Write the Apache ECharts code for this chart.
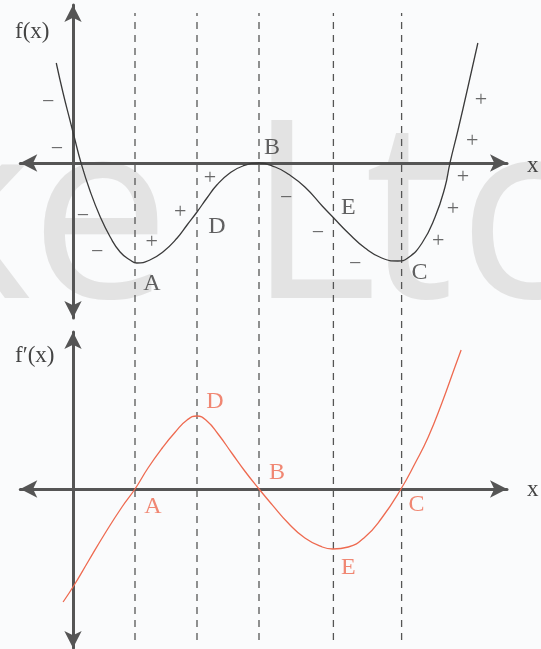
<!DOCTYPE html>
<html><head><meta charset="utf-8">
<script src="https://cdn.jsdelivr.net/npm/echarts@6/dist/echarts.min.js"></script>
<style>html,body{margin:0;padding:0;background:#fafbfc;}#chart{width:541px;height:649px;}</style>
</head><body><div id="chart"></div>
<script>
// ---- data (x in units of the A-D spacing, y in arbitrary units) ----
const pointNames = ['A', 'D', 'B', 'E', 'C'];
const pointX = [1, 2, 3, 4.2, 5.3];
const fPointY = [-5, -2.45, 0, -2.7, -4.9];
const dfPointY = [0, 3.65, 0, -3.0, 0];

const fCurve = [[-0.27,5.0],[-0.16,3.5],[-0.05,2.15],[0.02,1.3],[0.13,0],[0.27,-1.35],[0.44,-2.7],[0.6,-3.7],[0.76,-4.45],[0.92,-4.85],[1.03,-5.0],[1.24,-4.85],[1.45,-4.45],[1.68,-3.75],[1.84,-3.1],[2.0,-2.45],[2.16,-1.75],[2.32,-1.1],[2.53,-0.5],[2.74,-0.15],[3.0,0],[3.26,-0.2],[3.47,-0.55],[3.74,-1.2],[4.02,-2.15],[4.19,-2.7],[4.44,-3.5],[4.71,-4.25],[4.98,-4.75],[5.24,-4.9],[5.4,-4.75],[5.63,-4.0],[5.84,-2.7],[6.0,-1.2],[6.08,0],[6.21,1.65],[6.37,3.8],[6.53,6.0]];
const dfCurve = [[-0.16,-5.65],[0.02,-4.8],[0.24,-3.65],[0.52,-2.2],[0.79,-0.9],[1,0],[1.21,1.05],[1.44,2.05],[1.65,2.85],[1.84,3.45],[2.0,3.65],[2.16,3.4],[2.34,2.75],[2.56,1.8],[2.77,0.9],[3,0],[3.21,-0.78],[3.47,-1.7],[3.74,-2.45],[4.02,-2.9],[4.19,-3.0],[4.44,-2.9],[4.71,-2.4],[4.98,-1.45],[5.29,0],[5.52,1.3],[5.73,2.6],[5.95,4.3],[6.16,6.1],[6.26,6.95]];

const minusSigns = [[-0.40,3.05],[-0.26,0.7],[0.16,-2.65],[0.39,-4.45],[3.44,-1.75],[3.95,-3.5],[4.55,-5.05]];
const plusSigns = [[1.27,-3.95],[1.73,-2.45],[2.21,-0.75],[5.89,-3.9],[6.13,-2.3],[6.29,-0.7],[6.44,1.1],[6.58,3.15]];

// ---- styling ----
const AXIS = '#555';
const INK = '#3a3a3a';
const RED = '#ee6a50';
const SERIF = '"Liberation Serif", "DejaVu Serif", serif';
const fLabelOffset = {A:[17,21], D:[20,15], B:[13,-15], E:[15,-9], C:[18,12]};
const dfLabelOffset = {A:[18,18], D:[18,-14], B:[18,-16], E:[15,19], C:[15,16]};

const X_MIN = -0.85, X_MAX = 7.0;
const gridLeft = 20.3, gridWidth = 486.7;

function axisX(gi, show) {
  return {type:'value', gridIndex:gi, min:X_MIN, max:X_MAX, show:true,
    axisLine:{show:show, onZero:true, symbol:['arrow','arrow'], symbolSize:[13,17], lineStyle:{color:AXIS, width:3}},
    axisTick:{show:false}, axisLabel:{show:false}, splitLine:{show:false}};
}
function axisY(gi, min, max, show) {
  return {type:'value', gridIndex:gi, min:min, max:max, show:true,
    axisLine:{show:show, onZero:true, symbol:['arrow','arrow'], symbolSize:[13,17], lineStyle:{color:AXIS, width:3}},
    axisTick:{show:false}, axisLabel:{show:false}, splitLine:{show:false}};
}

const series = [];
pointX.forEach(x => series.push({type:'line', xAxisIndex:2, yAxisIndex:2, data:[[x,0],[x,1]], symbol:'none', silent:true,
  lineStyle:{color:'#555', width:1.3, type:[7,6]}, z:1}));
series.push({type:'line', xAxisIndex:0, yAxisIndex:0, data:fCurve, symbol:'none', smooth:0.5,
  lineStyle:{color:INK, width:1.3}, z:5});
series.push({type:'line', xAxisIndex:1, yAxisIndex:1, data:dfCurve, symbol:'none', smooth:0.5,
  lineStyle:{color:RED, width:1.3}, z:5});
function pointLabels(xi, ys, offsets, color) {
  return {type:'scatter', xAxisIndex:xi, yAxisIndex:xi, symbolSize:1, itemStyle:{color:'rgba(0,0,0,0)'}, silent:true, z:6,
    data: pointNames.map((n,i) => ({value:[pointX[i], ys[i]], name:n,
      label:{show:true, position:'inside', offset:offsets[n], formatter:n, color:color, fontFamily:SERIF, fontSize:24}}))};
}
series.push(pointLabels(0, fPointY, fLabelOffset, INK));
series.push(pointLabels(1, dfPointY, dfLabelOffset, RED));
function signs(arr, ch) {
  return {type:'scatter', xAxisIndex:0, yAxisIndex:0, symbolSize:1, itemStyle:{color:'rgba(0,0,0,0)'}, silent:true, z:6,
    data: arr.map(p => ({value:p})),
    label:{show:true, position:'inside', formatter:ch, color:'#444', fontFamily:SERIF, fontSize:22}};
}
series.push(signs(minusSigns, '\u2212'));
series.push(signs(plusSigns, '+'));

const wm = '#e3e3e3';
const wmText = (t, x, y) => ({type:'text', left:x, top:y, z:-10, silent:true,
  style:{text:t, font:'250px "Open Sans", sans-serif', fill:wm}});

const option = {
  backgroundColor:'#fafbfc',
  animation:false,
  grid:[
    {left:gridLeft, width:gridWidth, top:5, height:313},
    {left:gridLeft, width:gridWidth, top:332, height:316},
    {left:gridLeft, width:gridWidth, top:13, height:627}
  ],
  xAxis:[axisX(0,true), axisX(1,true), Object.assign(axisX(2,false),{show:false})],
  yAxis:[axisY(0,-7.75,7.9,true), axisY(1,-7.95,7.85,true), Object.assign(axisY(2,0,1,false),{show:false})],
  graphic:[
    wmText('k', -100, 102), wmText('e', 30, 102), wmText('L', 247, 102), wmText('t', 365, 102), wmText('c', 458, 102),
    {type:'text', left:15, top:20, z:10, style:{text:'f(x)', font:'23px ' + SERIF, fill:'#444'}},
    {type:'text', left:15, top:344, z:10, style:{text:'f\u2032(x)', font:'23px ' + SERIF, fill:'#444'}},
    {type:'text', left:527, top:154, z:10, style:{text:'x', font:'23px ' + SERIF, fill:'#444'}},
    {type:'text', left:527, top:478, z:10, style:{text:'x', font:'23px ' + SERIF, fill:'#444'}}
  ],
  series: series
};
const chart = echarts.init(document.getElementById('chart'), null, {renderer:'canvas'});
chart.setOption(option);
</script></body></html>
